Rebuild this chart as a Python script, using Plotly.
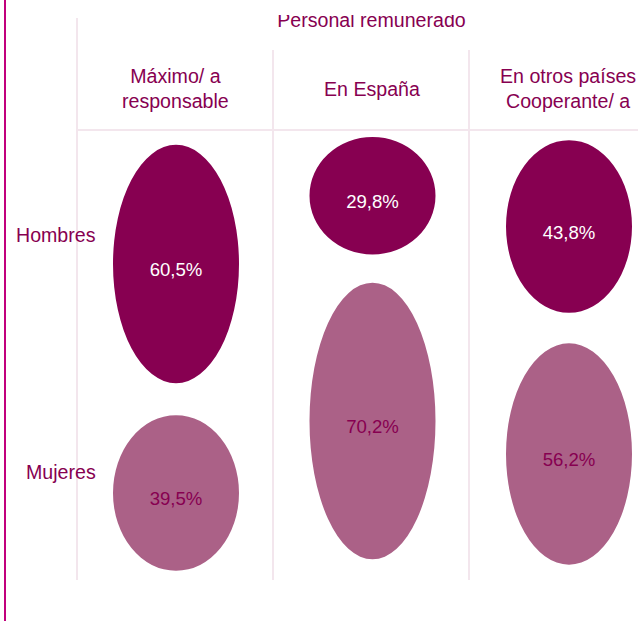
import plotly.graph_objects as go

# ---- data ----
columns = ["Máximo/ a<br>responsable", "En España", "En otros países<br>Cooperante/ a"]
rows = ["Hombres", "Mujeres"]
hombres = [60.5, 29.8, 43.8]
mujeres = [39.5, 70.2, 56.2]
group_title = "Personal remunerado"

# ---- layout constants (pixels) ----
W, H = 638, 621
PX_PER_PCT = 3.94
ELL_W = 126
col_cx = [176, 372.5, 569]
h_cy = [264, 195.7, 226.5]
m_cy = [493, 421, 454]
row_label_y = [234.5, 471.5]
grid_x = [77, 273, 469]

C_H = "#870051"
C_M = "#ab6187"
C_TXT = "#870051"
C_GRID = "#f3e6ed"
C_BORDER = "#c1007c"
FONT = "Liberation Sans, Arial, Helvetica, sans-serif"
LBL_SIZE = 19.6
VAL_SIZE = 18.6

def fmt(v):
    return f"{v:.1f}".replace(".", ",") + "%"

fig = go.Figure()
shapes = []

# grid lines
shapes.append(dict(type="line", x0=grid_x[0], x1=grid_x[0], y0=18, y1=580,
                   xref="x", yref="y", line=dict(color=C_GRID, width=2), layer="below"))
for gx in grid_x[1:]:
    shapes.append(dict(type="line", x0=gx, x1=gx, y0=50, y1=580,
                       xref="x", yref="y", line=dict(color=C_GRID, width=2), layer="below"))
shapes.append(dict(type="line", x0=grid_x[0], x1=W, y0=130, y1=130,
                   xref="x", yref="y", line=dict(color=C_GRID, width=2), layer="below"))

# ellipses sized by value
for i in range(len(columns)):
    for vals, cys, col in ((hombres, h_cy, C_H), (mujeres, m_cy, C_M)):
        h = vals[i] * PX_PER_PCT
        shapes.append(dict(type="circle", xref="x", yref="y",
                           x0=col_cx[i] - ELL_W / 2, x1=col_cx[i] + ELL_W / 2,
                           y0=cys[i] - h / 2, y1=cys[i] + h / 2,
                           fillcolor=col, line=dict(width=0), layer="below"))

# value labels
fig.add_trace(go.Scatter(x=col_cx, y=[c + 7.5 for c in h_cy], mode="text",
                         text=[fmt(v) for v in hombres],
                         textfont=dict(color="white", size=VAL_SIZE, family=FONT),
                         hoverinfo="skip", showlegend=False))
fig.add_trace(go.Scatter(x=col_cx, y=[c + 7.5 for c in m_cy], mode="text",
                         text=[fmt(v) for v in mujeres],
                         textfont=dict(color=C_TXT, size=VAL_SIZE, family=FONT),
                         hoverinfo="skip", showlegend=False))

# group title (clipped at top like the reference)
fig.add_trace(go.Scatter(x=[371.5], y=[22], mode="text", text=[group_title],
                         textfont=dict(color=C_TXT, size=LBL_SIZE, family=FONT),
                         hoverinfo="skip", showlegend=False))
shapes.append(dict(type="rect", xref="x", yref="y", x0=8, x1=W, y0=-5, y1=15,
                   fillcolor="white", line=dict(width=0), layer="above"))

# left border
shapes.append(dict(type="line", x0=5, x1=5, y0=0, y1=H, xref="x", yref="y",
                   line=dict(color=C_BORDER, width=2), layer="above"))

annotations = []
for i, c in enumerate(columns):
    annotations.append(dict(x=col_cx[i] - 1, y=88.5, xref="x", yref="y", text=c,
                            showarrow=False, font=dict(color=C_TXT, size=LBL_SIZE, family=FONT),
                            xanchor="center", yanchor="middle", align="center"))
for r, ry in zip(rows, row_label_y):
    annotations.append(dict(x=98, y=ry, xref="x", yref="y", text=r, showarrow=False,
                            font=dict(color=C_TXT, size=LBL_SIZE, family=FONT),
                            xanchor="right", yanchor="middle"))

fig.update_layout(
    width=W, height=H, autosize=False,
    margin=dict(l=0, r=0, t=0, b=0),
    paper_bgcolor="white", plot_bgcolor="white",
    xaxis=dict(range=[0, W], visible=False, fixedrange=True),
    yaxis=dict(range=[H, 0], visible=False, fixedrange=True),
    shapes=shapes, annotations=annotations,
)

fig.write_html("out.html", config={"displayModeBar": False},
               post_script="document.body.style.margin='0';document.body.style.overflow='hidden';")
